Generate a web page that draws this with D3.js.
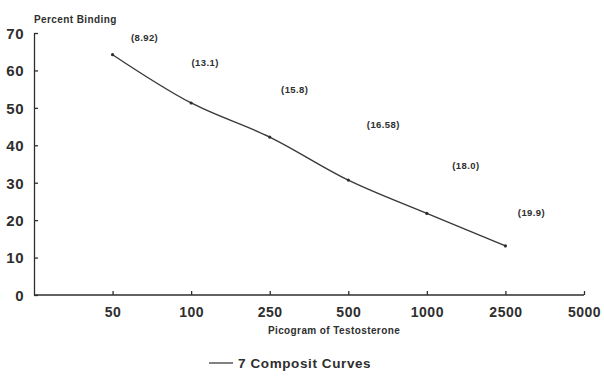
<!DOCTYPE html>
<html>
<head>
<meta charset="utf-8">
<script src="https://cdn.jsdelivr.net/npm/d3@7"></script>
<style>
    body { margin: 0; background: #fff; }
    svg { font-family: "Liberation Sans", Arial, sans-serif; }
</style>
</head>
<body>
<svg id="drawing_region"></svg>
<script>
// picograms of testosterone (categorical, evenly spaced on the chart)
const doses = ["50", "100", "250", "500", "1000", "2500", "5000"];
// composite curve, percent binding at each dose that was measured
const curveDoses = ["50", "100", "250", "500", "1000", "2500"];
const percentBinding = [64.2, 51.3, 42.2, 30.7, 21.8, 13.1];
// values printed in brackets next to each point
const pointLabels = ["(8.92)", "(13.1)", "(15.8)", "(16.58)", "(18.0)", "(19.9)"];
const yTicks = [0, 10, 20, 30, 40, 50, 60, 70];

// where the bracket labels sit relative to their point
const labelOffsets = [[32, -17], [14, -40], [25, -47], [35, -55], [39, -48], [26, -33]];

const config = {
    width: 604,
    height: 376,
    margin: { top: 33, right: 20, bottom: 81, left: 34 }
};
const ink = "#2e2e2e";

const svg = d3.select("#drawing_region")
    .attr("width", config.width)
    .attr("height", config.height);

const left = config.margin.left;
const right = 584;
const bottom = config.height - config.margin.bottom;

const step = (right - left) / doses.length;
const xscale = d3.scalePoint()
    .domain(doses)
    .range([left + step, right]);

const yscale = d3.scaleLinear()
    .domain([0, 70])
    .range([bottom, config.margin.top]);

// x axis
const xaxis_group = svg.append("g")
    .attr("transform", `translate(0, ${bottom})`)
    .call(d3.axisBottom(xscale).tickSizeInner(-4).tickSizeOuter(0).tickPadding(12));
xaxis_group.select(".domain").attr("d", `M${left},0H${right}`);

// y axis
const yaxis_group = svg.append("g")
    .attr("transform", `translate(${left}, 0)`)
    .call(d3.axisLeft(yscale).tickValues(yTicks).tickSizeInner(-4).tickSizeOuter(0).tickPadding(10));

svg.selectAll(".domain, .tick line")
    .attr("stroke", ink)
    .attr("stroke-width", 1.3);
xaxis_group.selectAll(".tick text")
    .attr("fill", ink)
    .attr("font-size", "14px")
    .attr("font-weight", "bold")
    .attr("letter-spacing", "0.5px");
yaxis_group.selectAll(".tick text")
    .attr("fill", ink)
    .attr("font-size", "15px")
    .attr("font-weight", "bold")
    .attr("letter-spacing", "0.5px")
    .attr("dy", "0.36em");

// axis titles
svg.append("text")
    .attr("x", left)
    .attr("y", 23)
    .attr("fill", ink)
    .attr("font-size", "10px")
    .attr("font-weight", "bold")
    .attr("letter-spacing", "0.4px")
    .text("Percent Binding");

svg.append("text")
    .attr("x", (left + right) / 2 + 25)
    .attr("y", 334)
    .attr("fill", ink)
    .attr("text-anchor", "middle")
    .attr("font-size", "10px")
    .attr("font-weight", "bold")
    .attr("letter-spacing", "0.4px")
    .text("Picogram of Testosterone");

// curve
const points = curveDoses.map((d, i) => ({ dose: d, pct: percentBinding[i], label: pointLabels[i] }));

const line = d3.line()
    .x(d => xscale(d.dose))
    .y(d => yscale(d.pct))
    .curve(d3.curveCatmullRom);

svg.append("path")
    .datum(points)
    .attr("d", line)
    .attr("fill", "none")
    .attr("stroke", "#3a3a3a")
    .attr("stroke-width", 1.4);

svg.selectAll(".pt")
    .data(points)
    .enter()
    .append("circle")
    .attr("class", "pt")
    .attr("cx", d => xscale(d.dose))
    .attr("cy", d => yscale(d.pct))
    .attr("r", 1.6)
    .attr("fill", ink);

svg.selectAll(".pt-label")
    .data(points)
    .enter()
    .append("text")
    .attr("class", "pt-label")
    .attr("x", (d, i) => xscale(d.dose) + labelOffsets[i][0])
    .attr("y", (d, i) => yscale(d.pct) + labelOffsets[i][1])
    .attr("dy", "0.35em")
    .attr("text-anchor", "middle")
    .attr("fill", ink)
    .attr("font-size", "9.5px")
    .attr("font-weight", "bold")
    .attr("letter-spacing", "0.4px")
    .text(d => d.label);

// legend
const legend = svg.append("g")
    .attr("transform", "translate(209, 363)");
legend.append("line")
    .attr("x1", 0)
    .attr("x2", 24)
    .attr("stroke", ink)
    .attr("stroke-width", 1.2);
legend.append("text")
    .attr("x", 29)
    .attr("dy", "0.36em")
    .attr("fill", ink)
    .attr("font-size", "13.5px")
    .attr("font-weight", "bold")
    .attr("letter-spacing", "0.6px")
    .text("7 Composit Curves");
</script>
</body>
</html>
